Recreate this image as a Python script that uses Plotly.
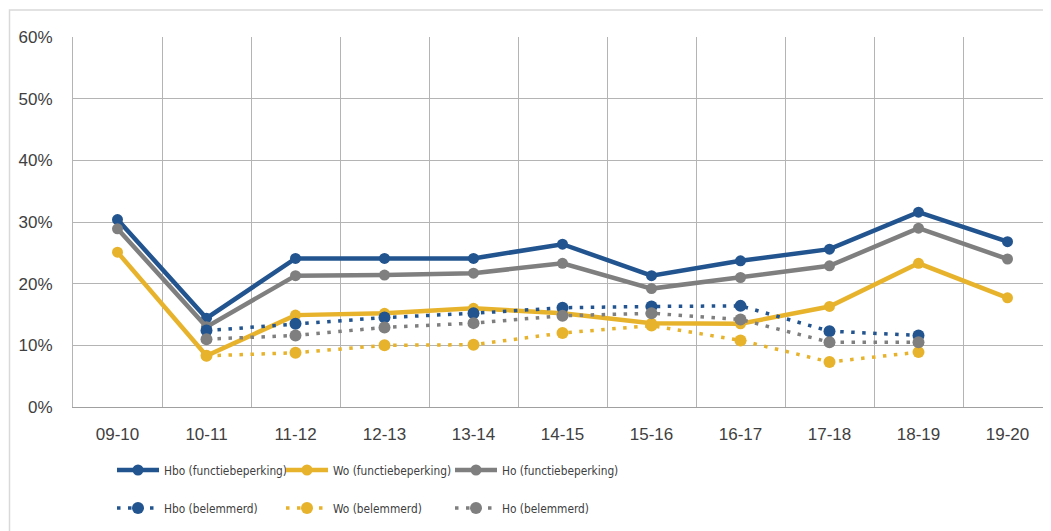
import plotly.graph_objects as go

categories = ["09-10", "10-11", "11-12", "12-13", "13-14", "14-15", "15-16", "16-17", "17-18", "18-19", "19-20"]

hbo_func = [0.304, 0.144, 0.241, 0.241, 0.241, 0.264, 0.213, 0.237, 0.256, 0.316, 0.268]
wo_func = [0.251, 0.083, 0.149, 0.152, 0.160, 0.152, 0.136, 0.135, 0.163, 0.233, 0.177]
ho_func = [0.289, 0.130, 0.213, 0.214, 0.217, 0.233, 0.192, 0.210, 0.229, 0.290, 0.240]

hbo_bel = [None, 0.124, 0.135, 0.145, 0.152, 0.161, 0.163, 0.164, 0.123, 0.116, None]
wo_bel = [None, 0.083, 0.088, 0.100, 0.101, 0.120, 0.132, 0.108, 0.073, 0.089, None]
ho_bel = [None, 0.110, 0.116, 0.129, 0.136, 0.148, 0.152, 0.142, 0.105, 0.105, None]

names_func = ["Hbo (functiebeperking)", "Wo (functiebeperking)", "Ho (functiebeperking)"]
names_bel = ["Hbo (belemmerd)", "Wo (belemmerd)", "Ho (belemmerd)"]

BLUE = "#22548F"
YELLOW = "#E8B32C"
GRAY = "#7F7F7F"
TEXT = "#404040"
GRID = "#B4B4B4"

W, H = 1051, 531
# the page body adds an 8px offset; margins compensate so the plot lands where the reference has it
L, T = 65, 29
PW, PH = 979, 370
R = W - L - PW
B = H - T - PH

fig = go.Figure()

for name, vals, col in zip(names_func, [hbo_func, wo_func, ho_func], [BLUE, YELLOW, GRAY]):
    fig.add_trace(go.Scatter(
        x=categories, y=vals, name=name, mode="lines+markers",
        line=dict(color=col, width=4.5),
        marker=dict(color=col, size=11),
        legend="legend",
    ))

for name, vals, col in zip(names_bel, [hbo_bel, wo_bel, ho_bel], [BLUE, YELLOW, GRAY]):
    fig.add_trace(go.Scatter(
        x=categories, y=vals, name=name, mode="lines+markers",
        line=dict(color=col, width=3.5, dash="3.5px,7.5px"),
        marker=dict(color=col, size=12),
        connectgaps=False,
        legend="legend2",
    ))

# helpers: viewport pixel -> paper fraction (paper is relative to the plot area)
def px_x(p):
    return (p - 73) / PW

def px_y(p):
    return (407 - p) / PH

# outer chart border (partially clipped like the reference)
fig.add_shape(type="rect", xref="paper", yref="paper",
              x0=px_x(9.5), x1=px_x(1070), y0=px_y(560), y1=px_y(10),
              line=dict(color="#D9D9D9", width=1.5), fillcolor="rgba(0,0,0,0)", layer="below")

font_axis = dict(family="Liberation Sans, Arial, sans-serif", size=17, color=TEXT)
font_leg = dict(family="DejaVu Sans Condensed, Liberation Sans, sans-serif", size=11.8, color=TEXT)

fig.update_layout(
    width=W, height=H,
    margin=dict(l=L, r=R, t=T, b=B, autoexpand=False),
    paper_bgcolor="white", plot_bgcolor="white",
    showlegend=True,
    legend=dict(orientation="h", x=px_x(112), y=px_y(470), xanchor="left", yanchor="middle",
                entrywidth=112, entrywidthmode="pixels", itemwidth=42, font=font_leg,
                bgcolor="rgba(0,0,0,0)", traceorder="normal"),
    legend2=dict(orientation="h", x=px_x(112), y=px_y(508), xanchor="left", yanchor="middle",
                 entrywidth=112, entrywidthmode="pixels", itemwidth=42, font=font_leg,
                 bgcolor="rgba(0,0,0,0)", traceorder="normal"),
    xaxis=dict(type="category", categoryorder="array", categoryarray=categories,
               range=[-0.5, len(categories) - 0.5],
               tickson="boundaries", ticks="", showgrid=True, gridcolor=GRID, gridwidth=1,
               showline=True, linecolor="#A0A0A0", linewidth=1,
               tickfont=font_axis, ticklabelstandoff=12, fixedrange=True),
    yaxis=dict(range=[0, 0.6], dtick=0.1, tickformat=".0%",
               showgrid=True, gridcolor=GRID, gridwidth=1,
               showline=True, linecolor=GRID, linewidth=1, zeroline=False,
               tickfont=font_axis, ticklabelstandoff=16, fixedrange=True),
)

fig.write_html("out.html")
